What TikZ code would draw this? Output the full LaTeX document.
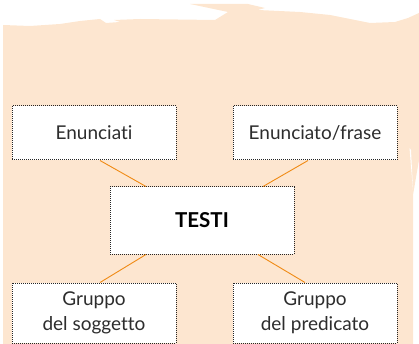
\documentclass[tikz,border=0pt]{standalone}
\usepackage{fontspec}
\setmainfont[Ligatures=NoCommon]{Lato}
\usetikzlibrary{calc}
\definecolor{peach}{RGB}{253,230,208}
\definecolor{linkorange}{RGB}{240,138,20}
\definecolor{textgray}{RGB}{45,45,45}
\tikzset{
  box/.style  = {shape=rectangle, draw=black!85, densely dotted, line width=1pt,
                 fill=white, align=center, inner sep=0pt,
                 minimum width=164pt, text=textgray,
                 font=\fontsize{19}{25}\selectfont},
  root/.style = {box, minimum width=184pt, minimum height=67pt, text=black,
                 font=\fontsize{20.5}{24}\selectfont\bfseries},
  link/.style = {draw=linkorange, line width=0.9pt}
}

\begin{document}
\begin{tikzpicture}[x=1pt, y=-1pt]
\useasboundingbox (0,0) rectangle (419,344);

% torn paper background
\fill[peach] (3,25) -- (30,26) -- (60,24) -- (80,21) -- (100,19) -- (106,23)
  -- (120,22) -- (114,20) -- (140,19) -- (215,20) -- (228,12) -- (190,4)
  -- (248,4) -- (265,8) -- (258,10) -- (300,12) -- (330,15) -- (355,20)
  -- (370,23) -- (395,22) -- (408,18) -- (419,13) -- (419,160) -- (413,195)
  -- (413,344) -- (3,344) -- cycle;
\fill[white] (409.5,148) -- (411,150) -- (413,190) -- cycle;

\node[box, minimum height=54pt] (enun) at (94,133) {Enunciati};
\node[box, minimum height=54pt] (frase) at (315,133) {Enunciato/frase};
\node[root] (testi) at (202,220.5) {TESTI};
\node[box, minimum height=60pt] (sogg) at (94,313) {Gruppo\\del soggetto};
\node[box, minimum height=60pt] (pred) at (315,313) {Gruppo\\del predicato};

\draw[link] ($(enun.south)+(6,0)$) -- ($(testi.north)+(-56,0)$);
\draw[link] ($(frase.south)+(-7,0)$) -- ($(testi.north)+(61,0)$);
\draw[link] ($(testi.south)+(-56,0)$) -- ($(sogg.north)+(6,0)$);
\draw[link] ($(testi.south)+(56,0)$) -- ($(pred.north)+(-10,0)$);
\end{tikzpicture}
\end{document}
